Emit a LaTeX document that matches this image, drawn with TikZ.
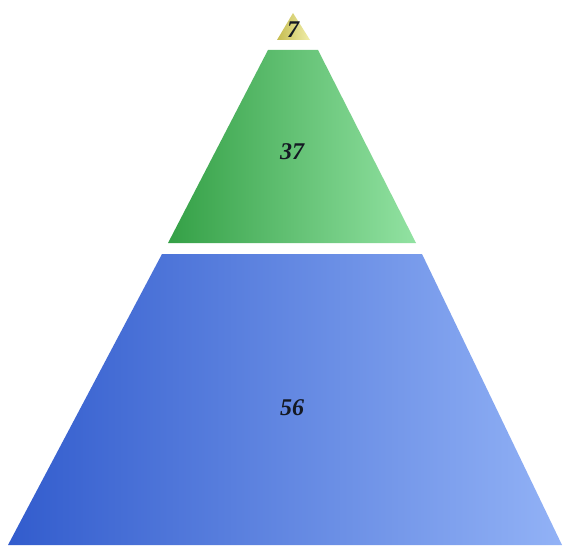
\documentclass[tikz,border=0pt]{standalone}
\usepackage{fontspec}
\setmainfont{Liberation Serif}
\definecolor{bluedark}{RGB}{50,92,205}
\definecolor{bluelight}{RGB}{146,178,246}
\definecolor{greendark}{RGB}{52,160,70}
\definecolor{greenlight}{RGB}{146,226,162}
\definecolor{yeldark}{RGB}{198,188,80}
\definecolor{yellight}{RGB}{240,238,170}
\definecolor{numtext}{RGB}{20,25,35}
\tikzset{
  numlabel/.style={font=\fontsize{24}{24}\selectfont\bfseries\itshape, text=numtext, inner sep=0pt}
}
\begin{document}
\begin{tikzpicture}[x=1pt,y=-1pt]
\useasboundingbox (0,0) rectangle (564,548);
\fill[white] (0,0) rectangle (564,548);
% yellow top
\shade[left color=yeldark, right color=yellight] (293,13) -- (310,40) -- (277,40) -- cycle;
% green middle
\shade[left color=greendark, right color=greenlight] (268,50) -- (318,50) -- (416,243) -- (168,243) -- cycle;
% blue bottom
\shade[left color=bluedark, right color=bluelight] (162,254) -- (422,254) -- (562,545) -- (8,545) -- cycle;
\node[numlabel] (n7) at (293,30) {7};
\node[numlabel] (n37) at (292,152) {37};
\node[numlabel] (n56) at (292,408) {56};
\end{tikzpicture}
\end{document}
